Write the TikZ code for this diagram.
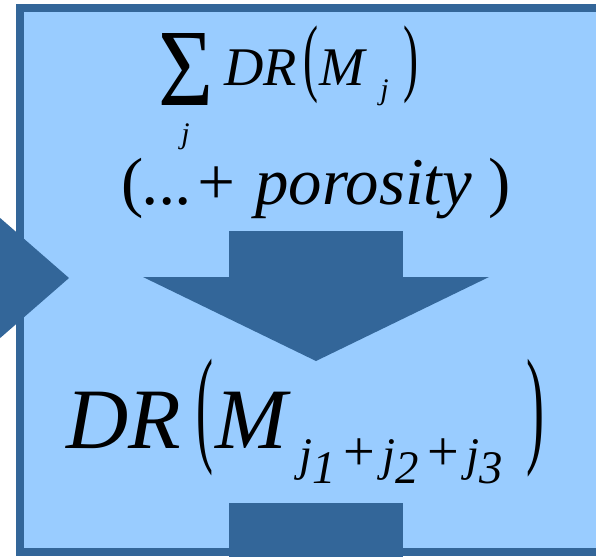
\documentclass[tikz,border=0pt]{standalone}
\usepackage{fontspec}
\setmainfont{Liberation Serif}
\usepackage{graphicx}
\definecolor{paleblue}{HTML}{99CCFF}
\definecolor{deepblue}{HTML}{336699}
\newcommand{\lowdigit}[1]{\raisebox{-0.26cm}{\textit{#1}}}
\newcommand{\bigplus}{\,{\upshape\fontsize{32}{32}\selectfont+}\,}

\begin{document}
\begin{tikzpicture}[x=0.02cm,y=-0.02cm,
    block/.style={fill=deepblue},
    brace/.style={anchor=north west, inner sep=0pt},
    txtA/.style={anchor=base west, inner sep=0pt, font=\fontsize{31}{31}\selectfont},
    txtB/.style={anchor=base west, inner sep=0pt, font=\fontsize{38}{38}\selectfont},
    txtC/.style={anchor=base west, inner sep=0pt, font=\fontsize{49}{49}\selectfont},
    txtS/.style={anchor=base west, inner sep=0pt, font=\fontsize{17}{17}\selectfont},
    txtD/.style={anchor=base west, inner sep=0pt, font=\fontsize{26.6}{27}\selectfont}]
\useasboundingbox (0,0) rectangle (596,556);
\draw[fill=paleblue, draw=deepblue, line width=0.16cm] (20,8) rectangle (600,552);
\fill[block] (229,231) rectangle (403,278);
\fill[block] (143,277) -- (489,277) -- (316,361) -- cycle;
\fill[block] (229,503) rectangle (403,560);
\fill[block] (-40,183) -- (69,278) -- (-40,373) -- cycle;

\node[brace] (sum) at (158,33) {\resizebox*{1.1cm}{1.44cm}{Σ}};
\node[txtS] (sumidx) at (181,143) {\textit{j}};
\node[txtA] (dr1) at (224,85) {\textit{DR}};
\node[brace] (lp1) at (303,25) {\resizebox*{0.3cm}{1.56cm}{(}};
\node[txtA] (m1) at (319,85) {\textit{M}};
\node[txtS] (sub1) at (380,99) {\textit{j}};
\node[brace] (rp1) at (403,25) {\resizebox*{0.3cm}{1.56cm}{)}};

\node[txtB] (extra) at (121,204) {(\textit{...+ porosity} )};

\node[txtC] (dr2) at (66,448) {\textit{DR}};
\node[brace] (lp2) at (196,359) {\resizebox*{0.34cm}{2.34cm}{(}};
\node[txtC] (m2) at (215,448) {\textit{M}};
\node[txtD] (sub2) at (299,470) {\textit{j}\lowdigit{1}\bigplus\textit{j}\lowdigit{2}\bigplus\textit{j}\lowdigit{3}};
\node[brace] (rp2) at (526,359) {\resizebox*{0.36cm}{2.36cm}{)}};
\end{tikzpicture}
\end{document}
